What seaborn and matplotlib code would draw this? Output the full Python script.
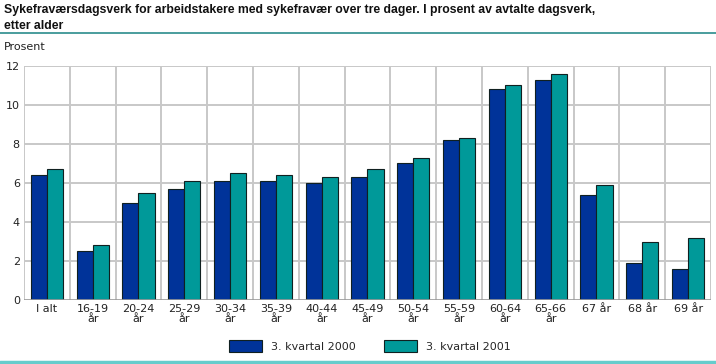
import matplotlib
matplotlib.use("Agg")
import matplotlib.pyplot as plt
import seaborn as sns
import pandas as pd
from matplotlib.lines import Line2D
from matplotlib.patches import Patch

categories = ["I alt", "16-19\når", "20-24\når", "25-29\når", "30-34\når", "35-39\når",
              "40-44\når", "45-49\når", "50-54\når", "55-59\når", "60-64\når",
              "65-66\når", "67 år", "68 år", "69 år"]
series_names = ["3. kvartal 2000", "3. kvartal 2001"]
values_2000 = [6.4, 2.5, 5.0, 5.7, 6.1, 6.1, 6.0, 6.3, 7.0, 8.2, 10.8, 11.3, 5.4, 1.9, 1.6]
values_2001 = [6.7, 2.8, 5.5, 6.1, 6.5, 6.4, 6.3, 6.7, 7.3, 8.3, 11.0, 11.6, 5.9, 3.0, 3.2]
yticks = [0, 2, 4, 6, 8, 10, 12]

df = pd.DataFrame({
    "cat": categories * 2,
    "serie": [series_names[0]] * len(categories) + [series_names[1]] * len(categories),
    "val": values_2000 + values_2001,
})

sns.set_theme(style="white")
plt.rcParams["font.family"] = ["DejaVu Sans"]

fig = plt.figure(figsize=(7.16, 3.64), dpi=100)
ax = fig.add_axes([24/716, 64/364, 687/716, 234/364])

sns.barplot(data=df, x="cat", y="val", hue="serie", order=categories,
            hue_order=series_names, palette=["#003399", "#009999"], saturation=1,
            width=0.7, edgecolor="#102020", linewidth=0.8, ax=ax, legend=False,
            zorder=3)

ax.set_ylim(0, 12)
ax.set_xlim(-0.5, len(categories) - 0.5)
ax.set_yticks(yticks)
ax.set_yticklabels([str(t) for t in yticks], fontsize=8, color="#222222")
ax.set_xticks(range(len(categories)))
ax.set_xticklabels(categories, fontsize=8, color="#222222", linespacing=1.0)
ax.tick_params(axis="both", length=0, pad=3)
ax.set_xlabel("")
ax.set_ylabel("")

grid_c = "#c8c8c8"
for y in yticks[1:]:
    ax.axhline(y, color=grid_c, lw=1.4, zorder=1)
for i in range(len(categories) + 1):
    ax.axvline(i - 0.5, color=grid_c, lw=1.4, zorder=1)
for s in ax.spines.values():
    s.set_visible(False)
ax.axhline(0, color="#999999", lw=1.2, zorder=4)

fig.text(4/716, 1 - 4/364,
         "Sykefraværsdagsverk for arbeidstakere med sykefravær over tre dager. I prosent av avtalte dagsverk,\netter alder",
         fontsize=8.8, fontweight="bold", ha="left", va="top", color="#111111",
         linespacing=1.4, family=["Liberation Sans", "DejaVu Sans"])
fig.add_artist(Line2D([0, 1], [1 - 33/364, 1 - 33/364], color="#2a8c8c", lw=1.2,
                      transform=fig.transFigure))
fig.text(4/716, 1 - 47/364, "Prosent", fontsize=8, va="center", ha="left", color="#222222")
fig.add_artist(Line2D([0, 1], [1 - 362/364, 1 - 362/364], color="#66cccc", lw=2.5,
                      transform=fig.transFigure))

handles = [Patch(facecolor="#003399", edgecolor="#102020", lw=0.8),
           Patch(facecolor="#009999", edgecolor="#102020", lw=0.8)]
fig.legend(handles, series_names, loc="center", bbox_to_anchor=(370/716, 1 - 346/364),
           ncol=2, frameon=False, fontsize=8, handlelength=3.0, handleheight=1.3,
           columnspacing=2.5, handletextpad=0.8)

fig.savefig("out.png", dpi=100)
